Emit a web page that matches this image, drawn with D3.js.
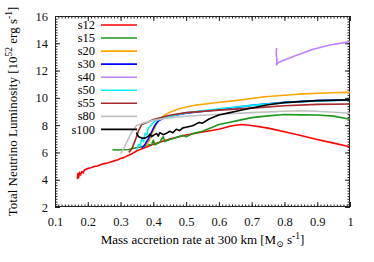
<!DOCTYPE html>
<html>
<head>
<meta charset="utf-8">
<script src="https://cdn.jsdelivr.net/npm/d3@7"></script>
<style>
  body { margin: 0; background: #fff; }
  svg { font-family: "Liberation Serif", "DejaVu Serif", serif; }
  .axis path { stroke: #222; }
  .axis line { stroke: #222; }
  .axis text { font-family: "Liberation Serif", serif; font-size: 12.5px; fill: #111; }
  .series { fill: none; stroke-width: 1.6; stroke-linejoin: round; }
</style>
</head>
<body>
<div id="chart"></div>
<script>
(function(){

  var width = 374, height = 262;
  var plot = { left: 55, right: 350, top: 16, bottom: 207 };

  // series names and colours, legend order
  var names  = ['s12', 's15', 's20', 's30', 's40', 's50', 's55', 's80', 's100'];
  var colors = ['#ff0000', '#1e9620', '#ffa500', '#0000ff', '#c080ff', '#00f0ff', '#a52a2a', '#c0c0c0', '#000000'];

  var xTicks = [0.1, 0.2, 0.3, 0.4, 0.5, 0.6, 0.7, 0.8, 0.9, 1];
  var yTicks = [2, 4, 6, 8, 10, 12, 14, 16];

  // [mass accretion rate, luminosity]
  var s12 = [[0.168,4.05],[0.170,4.45],[0.172,4.15],[0.175,4.55],[0.178,4.35],[0.182,4.6],[0.186,4.5],[0.19,4.72],
    [0.20,4.82],[0.21,4.88],[0.22,4.97],[0.23,5.0],[0.24,5.12],[0.25,5.18],[0.26,5.22],[0.27,5.3],[0.28,5.38],[0.29,5.45],
    [0.30,5.55],[0.31,5.62],[0.32,5.75],[0.33,5.85],[0.34,5.98],[0.35,6.12],[0.37,6.3],[0.40,6.6],[0.45,6.98],[0.50,7.28],
    [0.55,7.5],[0.60,7.7],[0.64,7.95],[0.67,8.05],[0.70,7.97],[0.75,7.78],[0.80,7.52],[0.85,7.24],[0.90,6.95],[0.95,6.68],[1.0,6.42]];
  var s15 = [[0.275,6.2],[0.29,6.18],[0.31,6.2],[0.325,6.22],[0.34,6.3],[0.36,6.4],[0.38,6.52],[0.395,6.58],[0.40,6.9],
    [0.405,6.55],[0.42,6.75],[0.43,7.15],[0.435,6.8],[0.45,6.95],[0.47,7.1],[0.49,7.25],[0.50,7.15],[0.52,7.38],[0.55,7.55],
    [0.58,7.85],[0.60,8.05],[0.63,8.2],[0.66,8.35],[0.70,8.55],[0.75,8.68],[0.80,8.78],[0.85,8.75],[0.90,8.74],[0.95,8.66],[1.0,8.43]];
  var s20 = [[0.38,6.5],[0.39,7.0],[0.40,7.6],[0.41,8.1],[0.42,8.45],[0.43,8.65],[0.45,8.95],[0.48,9.22],[0.53,9.47],
    [0.59,9.64],[0.65,9.8],[0.74,10.08],[0.84,10.27],[0.94,10.37],[1.0,10.4]];
  var s30 = [[0.365,6.3],[0.375,6.6],[0.385,7.0],[0.395,7.5],[0.405,8.0],[0.415,8.3],[0.43,8.5],[0.45,8.65],[0.50,8.88],
    [0.60,9.15],[0.70,9.45],[0.80,9.68],[0.90,9.8],[1.0,9.85]];
  var s40 = [[0.776,13.65],[0.775,13.2],[0.777,12.8],[0.776,12.42],[0.781,12.6],[0.80,12.78],[0.837,13.12],[0.888,13.56],
    [0.939,13.88],[1.0,14.12]];
  var s50 = [[0.35,6.2],[0.355,6.6],[0.36,6.5],[0.365,7.0],[0.37,6.8],[0.375,7.4],[0.38,7.3],[0.385,7.8],[0.39,7.9],
    [0.40,8.2],[0.42,8.45],[0.45,8.65],[0.50,8.9],[0.60,9.2],[0.70,9.45],[0.80,9.65],[0.90,9.78],[1.0,9.82]];
  var s55 = [[0.325,6.0],[0.335,6.3],[0.345,6.9],[0.355,7.6],[0.365,8.05],[0.38,8.2],[0.40,8.42],[0.45,8.72],[0.50,8.92],
    [0.60,9.1],[0.70,9.25],[0.80,9.42],[0.90,9.52],[1.0,9.55]];
  var s80 = [[0.30,5.9],[0.31,6.3],[0.32,6.8],[0.33,7.3],[0.34,7.7],[0.35,8.0],[0.37,8.15],[0.40,8.35],[0.45,8.55],
    [0.50,8.65],[0.60,8.8],[0.70,8.92],[0.80,9.02],[0.85,9.05],[0.90,9.02],[0.95,8.95],[1.0,8.87]];
  var s100 = [[0.348,7.45],[0.355,7.15],[0.365,7.05],[0.375,7.05],[0.385,7.2],[0.39,7.35],[0.395,7.15],[0.40,7.25],
    [0.41,7.4],[0.415,7.2],[0.42,7.45],[0.43,7.3],[0.44,7.4],[0.45,7.55],[0.46,7.45],[0.47,7.7],[0.48,7.6],[0.49,7.8],
    [0.50,7.85],[0.52,7.95],[0.54,8.2],[0.55,8.15],[0.57,8.45],[0.60,8.75],[0.63,8.9],[0.66,9.05],[0.70,9.25],
    [0.75,9.5],[0.80,9.65],[0.90,9.8],[1.0,9.85]];

  var seriesData = [s12, s15, s20, s30, s40, s50, s55, s80, s100];

  var x = d3.scaleLinear().domain([0.1, 1]).range([plot.left, plot.right]);
  var y = d3.scaleLinear().domain([2, 16]).range([plot.bottom, plot.top]);

  var line = d3.line()
        .x(function(d){ return x(d[0]); })
        .y(function(d){ return y(d[1]); });

  var svg = d3.select('#chart')
        .append('svg')
          .attr('width', width)
          .attr('height', height);

  svg.append('clipPath').attr('id', 'clip')
    .append('rect')
      .attr('x', plot.left).attr('y', plot.top)
      .attr('width', plot.right - plot.left)
      .attr('height', plot.bottom - plot.top);

  // minor ticks every 0.01 / 0.2
  var xMinor = d3.range(100, 1001, 10).map(function(v){ return v / 1000; });
  var yMinor = d3.range(20, 161, 2).map(function(v){ return v / 10; });

  function addAxis(axis, tx, ty) {
    svg.append('g')
      .attr('class', 'axis')
      .attr('transform', 'translate(' + tx + ',' + ty + ')')
      .call(axis)
      .call(function(g){ g.select('.domain').remove(); });
  }

  // major ticks, with labels on bottom/left
  addAxis(d3.axisBottom(x).tickValues(xTicks).tickSize(-5).tickPadding(10).tickFormat(d3.format('')), 0, plot.bottom);
  addAxis(d3.axisLeft(y).tickValues(yTicks).tickSize(-5).tickPadding(7).tickFormat(d3.format('')), plot.left, 0);
  addAxis(d3.axisTop(x).tickValues(xTicks).tickSize(-5).tickFormat(''), 0, plot.top);
  addAxis(d3.axisRight(y).tickValues(yTicks).tickSize(-5).tickFormat(''), plot.right, 0);

  // minor ticks
  addAxis(d3.axisBottom(x).tickValues(xMinor).tickSize(-2.5).tickFormat(''), 0, plot.bottom);
  addAxis(d3.axisTop(x).tickValues(xMinor).tickSize(-2.5).tickFormat(''), 0, plot.top);
  addAxis(d3.axisLeft(y).tickValues(yMinor).tickSize(-2.5).tickFormat(''), plot.left, 0);
  addAxis(d3.axisRight(y).tickValues(yMinor).tickSize(-2.5).tickFormat(''), plot.right, 0);

  // frame
  svg.append('rect')
    .attr('x', plot.left + 0.5).attr('y', plot.top + 0.5)
    .attr('width', plot.right - plot.left - 1)
    .attr('height', plot.bottom - plot.top - 1)
    .attr('fill', 'none')
    .attr('stroke', '#222');

  // data lines
  svg.append('g')
    .attr('clip-path', 'url(#clip)')
    .selectAll('path')
    .data(seriesData)
    .enter().append('path')
      .attr('class', 'series')
      .attr('stroke', function(d, i){ return colors[i]; })
      .attr('d', line);

  // legend
  var legend = svg.append('g').attr('class', 'legend');
  var leg = legend.selectAll('g')
    .data(names)
    .enter().append('g')
      .attr('transform', function(d, i){ return 'translate(0,' + (25 + i * 13.05) + ')'; });

  leg.append('text')
    .attr('x', 95)
    .attr('dy', '0.33em')
    .attr('text-anchor', 'end')
    .style('font-size', '12.5px')
    .text(function(d){ return d; });

  leg.append('line')
    .attr('x1', 101).attr('x2', 137)
    .attr('stroke-width', 1.6)
    .attr('stroke', function(d, i){ return colors[i]; });

  // axis titles
  var xTitle = svg.append('text')
    .attr('x', (plot.left + plot.right) / 2)
    .attr('y', 244)
    .attr('text-anchor', 'middle')
    .style('font-size', '13px');
  xTitle.append('tspan').text('Mass accretion rate at 300 km [M');
  xTitle.append('tspan').attr('dy', 3).style('font-size', '9px').text('\u2299');
  xTitle.append('tspan').attr('dy', -3).text(' s');
  xTitle.append('tspan').attr('dy', -5).style('font-size', '9.5px').text('-1');
  xTitle.append('tspan').attr('dy', 5).text(']');

  var yTitle = svg.append('text')
    .attr('transform', 'translate(17,' + ((plot.top + plot.bottom) / 2) + ') rotate(-90)')
    .attr('text-anchor', 'middle')
    .style('font-size', '13px');
  yTitle.append('tspan').text('Total Neutrino Luminosity [10');
  yTitle.append('tspan').attr('dy', -5).style('font-size', '9.5px').text('52');
  yTitle.append('tspan').attr('dy', 5).text(' erg s');
  yTitle.append('tspan').attr('dy', -5).style('font-size', '9.5px').text('-1');
  yTitle.append('tspan').attr('dy', 5).text(']');

})();
</script>
</body>
</html>
